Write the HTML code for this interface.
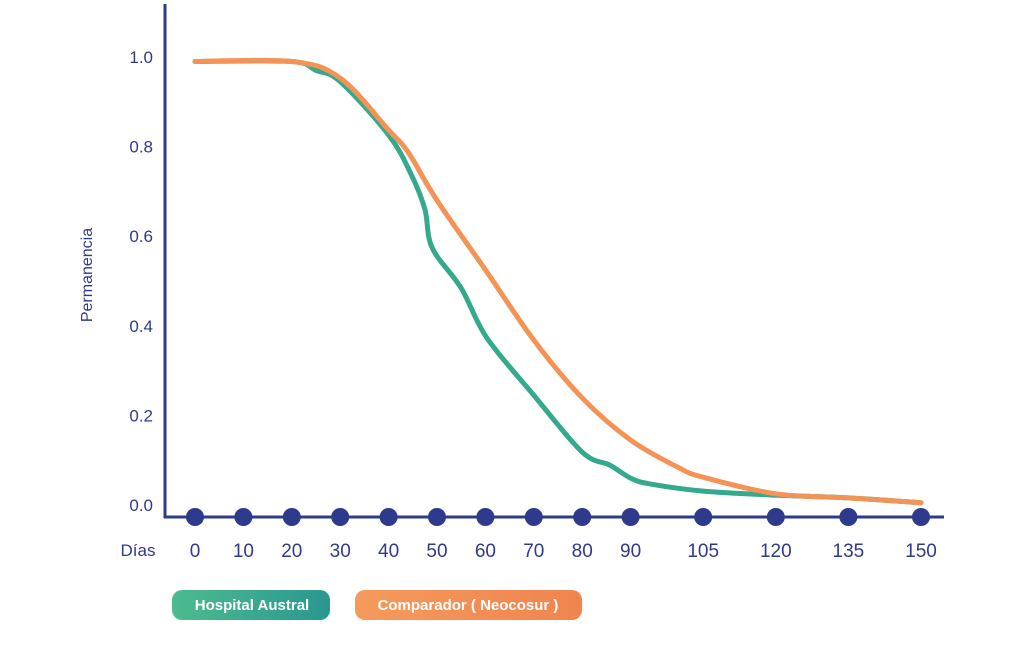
<!DOCTYPE html>
<html><head><meta charset="utf-8"><style>
body{margin:0;background:#fff;font-family:"Liberation Sans",sans-serif}
svg{display:block}
</style></head><body>
<svg width="1024" height="655" viewBox="0 0 1024 655">
<defs>
<linearGradient id="gg" x1="0" x2="1"><stop offset="0" stop-color="#4dbb8f"/><stop offset="1" stop-color="#2a9790"/></linearGradient>
<linearGradient id="og" x1="0" x2="1"><stop offset="0" stop-color="#f59a5c"/><stop offset="1" stop-color="#f0844f"/></linearGradient>
</defs>
<line x1="165" y1="4" x2="165" y2="518" stroke="#2e3a8c" stroke-width="3"/>
<line x1="164" y1="517" x2="944" y2="517" stroke="#2e3a8c" stroke-width="3"/>
<text x="92" y="275" transform="rotate(-90 92 275)" text-anchor="middle" font-size="16" fill="#2e3a8c">Permanencia</text>
<text x="138" y="556" text-anchor="middle" font-size="17" fill="#2e3a8c">Días</text>
<g id="yt"></g><g id="xt"></g><g id="lines"></g><g id="dots"></g>
<rect x="172" y="590" width="158" height="30" rx="10" fill="url(#gg)"/>
<text x="252" y="610" text-anchor="middle" font-size="15" font-weight="bold" fill="#fff">Hospital Austral</text>
<rect x="355" y="590" width="227" height="30" rx="10" fill="url(#og)"/>
<text x="468" y="610" text-anchor="middle" font-size="15" font-weight="bold" fill="#fff">Comparador ( Neocosur )</text>
</svg>
<script>
const xTicks=[0,10,20,30,40,50,60,70,80,90,105,120,135,150];
const yTicks=[0,0.2,0.4,0.6,0.8,1.0];
const greenDays=[0,20,25,30,40,44.7,47.5,49,55,60.3,70,80,85.7,90,94,105,120,135,150];
const greenVals=[0.99,0.99,0.97,0.945,0.826,0.737,0.66,0.574,0.484,0.373,0.245,0.118,0.089,0.06,0.047,0.031,0.022,0.016,0.005];
const orangeDays=[0,20,30,40,44,50,60,70,80,90,100,105,120,135,150];
const orangeVals=[0.99,0.99,0.953,0.837,0.788,0.68,0.525,0.368,0.239,0.145,0.083,0.062,0.025,0.016,0.005];
const NS='http://www.w3.org/2000/svg';
const xs=d=>195+d*(726/150);
const ys=v=>505-v*448;
const yt=document.getElementById('yt'),xt=document.getElementById('xt'),ln=document.getElementById('lines'),dt=document.getElementById('dots');
yTicks.forEach(v=>{const t=document.createElementNS(NS,'text');


t.setAttribute('x',153);t.setAttribute('y',ys(v)+6);t.setAttribute('text-anchor','end');t.setAttribute('font-size','17');t.setAttribute('fill','#2e3a8c');t.textContent=v.toFixed(1);yt.appendChild(t);});
xTicks.forEach(d=>{const t=document.createElementNS(NS,'text');


t.setAttribute('x',xs(d));t.setAttribute('y',557);t.setAttribute('text-anchor','middle');t.setAttribute('font-size','19');t.setAttribute('fill','#2e3a8c');t.textContent=d;xt.appendChild(t);
const c=document.createElementNS(NS,'circle');


c.setAttribute('cx',xs(d));c.setAttribute('cy',517);c.setAttribute('r',9);c.setAttribute('fill','#2e3a8c');dt.appendChild(c);});
function smooth(pts){let d='M'+pts[0][0]+','+pts[0][1];
for(let i=0;i<pts.length-1;i++){const p0=pts[Math.max(0,i-1)],p1=pts[i],p2=pts[i+1],p3=pts[Math.min(pts.length-1,i+2)];
const k=1/6;
const c1x=p1[0]+(p2[0]-p0[0])*k,c1y=p1[1]+(p2[1]-p0[1])*k;
const c2x=p2[0]-(p3[0]-p1[0])*k,c2y=p2[1]-(p3[1]-p1[1])*k;
d+=' C'+c1x+','+c1y+' '+c2x+','+c2y+' '+p2[0]+','+p2[1];}
return d;}
function line(days,vals,col,name){const p=document.createElementNS(NS,'path');


p.setAttribute('d',smooth(days.map((d,i)=>[xs(d),ys(vals[i])])));p.setAttribute('fill','none');p.setAttribute('stroke',col);p.setAttribute('stroke-width','5');p.setAttribute('stroke-linejoin','round');p.setAttribute('stroke-linecap','round');ln.appendChild(p);}
line(greenDays,greenVals,'#35a98c','hospital-austral-line');
line(orangeDays,orangeVals,'#f39356','comparador-line');
</script>
</body></html>
